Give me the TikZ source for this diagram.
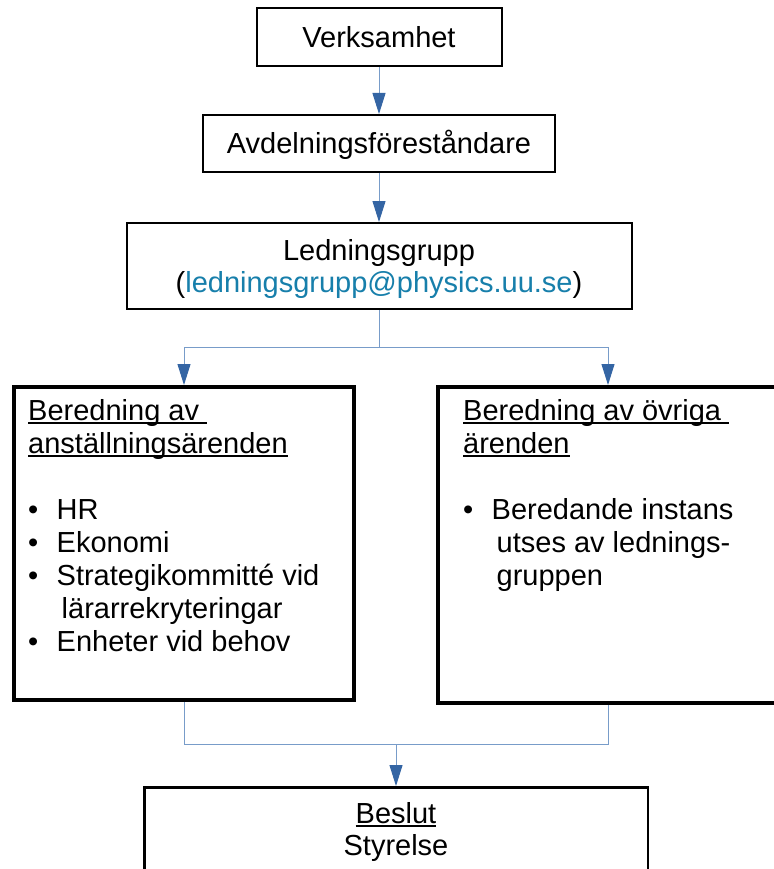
\documentclass[tikz,border=0pt]{standalone}
\usepackage{fontspec}
\setmainfont{Liberation Sans}
\usetikzlibrary{arrows.meta}
\definecolor{connline}{RGB}{120,156,201}
\definecolor{arrowblue}{RGB}{52,101,164}
\definecolor{mailblue}{RGB}{23,127,171}
\newcommand{\ulx}[1]{\leavevmode\setbox0\hbox{#1}\rlap{\rule[-4.2pt]{\wd0}{2pt}}\box0}
\newcommand{\bitem}[1]{\makebox[28.5pt][l]{•}#1}
\newcommand{\contline}[1]{\hspace*{33.5pt}#1}
\tikzset{
  topbox/.style={draw, line width=2pt, rectangle, inner sep=0pt},
  midbox/.style={draw, line width=4pt, rectangle, inner sep=0pt},
  endbox/.style={draw, line width=2.5pt, rectangle, inner sep=0pt},
  txt/.style={inner sep=0pt, anchor=base, font=\fontsize{29}{33}\selectfont},
  conn/.style={draw=connline, line width=1pt},
  arr/.style={-{Triangle[length=21pt 0 0,width=13pt 0 0,color=arrowblue]}},
}
\begin{document}
\begin{tikzpicture}[x=1pt,y=-1pt]
\useasboundingbox (0,0) rectangle (773,869);
\fill[white] (0,0) rectangle (773,869);

% boxes
\node[topbox, minimum width=245pt, minimum height=58pt] (verk) at (379,37) {};
\node[topbox, minimum width=352pt, minimum height=57pt] (avd) at (379,143.5) {};
\node[topbox, minimum width=505pt, minimum height=86pt] (ledn) at (379,266) {};
\node[midbox, minimum width=340pt, minimum height=313pt] (left) at (184,543.5) {};
\node[midbox, minimum width=340pt, minimum height=316pt] (right) at (608,545) {};
\node[endbox, minimum width=503.5pt, minimum height=132pt] (beslut) at (396,853.25) {};

% texts
\node[txt] (verkt) at (379,48) {Verksamhet};
\node[txt] (avdt) at (379,154) {Avdelningsföreståndare};
\node[txt, font=\fontsize{29}{32}\selectfont] (lednt) at (379,260)
  {\parbox[t]{480pt}{\centering Ledningsgrupp\\(\textcolor{mailblue}{ledningsgrupp@physics.uu.se})}};
\node[txt, anchor=base west] (leftt) at (28,420)
  {\parbox[t]{320pt}{\raggedright
   \ulx{Beredning av\ }\\
   \ulx{anställningsärenden}\\[33pt]
   \bitem{HR}\\
   \bitem{Ekonomi}\\
   \bitem{Strategikommitté vid}\\
   \contline{lärarrekryteringar}\\
   \bitem{Enheter vid behov}}};
\node[txt, anchor=base west] (rightt) at (463,420)
  {\parbox[t]{300pt}{\raggedright
   \ulx{Beredning av övriga\ }\\
   \ulx{ärenden}\\[33pt]
   \bitem{Beredande instans}\\
   \contline{utses av lednings-}\\
   \contline{gruppen}}};
\node[txt, font=\fontsize{29}{32}\selectfont] (beslutt) at (396,823)
  {\parbox[t]{400pt}{\centering\ulx{Beslut}\\Styrelse}};

% connectors
\coordinate (split) at (379,347);
\coordinate (merge) at (396,744);
\draw[conn,arr] (verk.south) -- (avd.north);
\draw[conn,arr] (avd.south) -- (ledn.north);
\draw[conn] (ledn.south) -- (split);
\draw[conn,arr] (split) -| (left.north);
\draw[conn,arr] (split) -| (right.north);
\draw[conn] (left.south) |- (merge);
\draw[conn] (right.south) |- (merge);
\draw[conn,arr] (merge) -- (beslut.north);
\end{tikzpicture}
\end{document}
